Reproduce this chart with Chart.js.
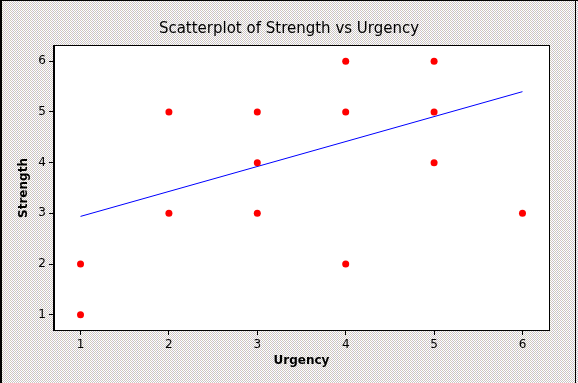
<!DOCTYPE html>
<html>
<head>
<meta charset="utf-8">
<script src="https://cdn.jsdelivr.net/npm/chart.js@4"></script>
<style>
html,body{margin:0;padding:0;background:#fff;}
#wrap{width:578px;height:383px;position:relative;}
</style>
</head>
<body>
<div id="wrap"><canvas id="c" width="578" height="383"></canvas></div>
<script>
// Data
const urgency  = [1, 1, 2, 2, 3, 3, 3, 4, 4, 4, 5, 5, 5, 6];
const strength = [1, 2, 3, 5, 3, 4, 5, 2, 5, 6, 4, 5, 6, 3];
const fitX = [1, 6];
const fitY = [2.94, 5.40];
const xTicks = [1, 2, 3, 4, 5, 6];
const yTicks = [1, 2, 3, 4, 5, 6];

const points = urgency.map((u, i) => ({x: u, y: strength[i]}));
const fitLine = fitX.map((u, i) => ({x: u, y: fitY[i]}));

function makePattern(ctx) {
  const p = document.createElement('canvas');
  p.width = 4; p.height = 4;
  const pc = p.getContext('2d');
  pc.fillStyle = '#ffffff';
  pc.fillRect(0, 0, 4, 4);
  const cols = ['#d2c2c6', '#cccbbc', '#c2c2cc', '#cfc6c2'];
  let k = 0;
  for (let y = 0; y < 4; y++) {
    for (let x = 0; x < 4; x++) {
      if ((x + y) % 2 === 0) {
        pc.fillStyle = cols[(k++) % cols.length];
        pc.fillRect(x, y, 1, 1);
      }
    }
  }
  return ctx.createPattern(p, 'repeat');
}

const bgPlugin = {
  id: 'bg',
  beforeDraw(chart) {
    const {ctx, chartArea: a, width, height} = chart;
    ctx.save();
    ctx.fillStyle = makePattern(ctx);
    ctx.fillRect(0, 0, width, height);
    ctx.fillStyle = '#000';
    ctx.fillRect(0, 0, 2, height);
    ctx.fillRect(0, 0, width, 1);
    ctx.fillRect(575, 0, 1, height);
    ctx.fillStyle = '#fff';
    ctx.fillRect(a.left, a.top, a.right - a.left, a.bottom - a.top);
    ctx.restore();
  },
  afterDraw(chart) {
    const {ctx, chartArea: a} = chart;
    ctx.save();
    ctx.strokeStyle = '#000';
    ctx.lineWidth = 1;
    ctx.strokeRect(Math.round(a.left) - 0.5, Math.round(a.top) - 0.5,
                   Math.round(a.right - a.left) + 1, Math.round(a.bottom - a.top) + 1);
    ctx.restore();
  }
};

new Chart(document.getElementById('c'), {
  type: 'scatter',
  data: {
    datasets: [
      {
        data: fitLine,
        showLine: true,
        borderColor: '#0000ff',
        borderWidth: 1,
        pointRadius: 0,
        fill: false,
        order: 2
      },
      {
        data: points,
        backgroundColor: '#ff0000',
        borderWidth: 0,
        pointRadius: 3.5,
        order: 1
      }
    ]
  },
  options: {
    responsive: false,
    animation: false,
    layout: {padding: 0},
    plugins: {
      legend: {display: false},
      tooltip: {enabled: false},
      title: {
        display: true,
        text: 'Scatterplot of Strength vs Urgency',
        color: '#000',
        font: {family: 'DejaVu Sans', size: 15, weight: 'normal', lineHeight: 1.2},
        padding: {top: 20, bottom: 8}
      }
    },
    scales: {
      x: {
        type: 'linear',
        min: 0.7, max: 6.3,
        afterBuildTicks(s) { s.ticks = xTicks.map(v => ({value: v})); },
        afterFit(s) { s.height = 53; },
        ticks: {color: '#000', font: {family: 'DejaVu Sans', size: 12}, padding: 3,
                callback: v => String(v)},
        grid: {display: true, drawOnChartArea: false, drawTicks: true, tickLength: 5, color: '#000', lineWidth: 1},
        border: {display: true, color: '#000', width: 1},
        title: {display: true, text: 'Urgency', color: '#000',
                font: {family: 'DejaVu Sans', size: 12, weight: 'bold'}, padding: {top: 4, bottom: 15}}
      },
      y: {
        type: 'linear',
        min: 0.7, max: 6.3,
        afterBuildTicks(s) { s.ticks = yTicks.map(v => ({value: v})); },
        afterFit(s) { s.width = 54; },
        ticks: {color: '#000', font: {family: 'DejaVu Sans', size: 12}, padding: 3,
                callback: v => String(v)},
        grid: {display: true, drawOnChartArea: false, drawTicks: true, tickLength: 5, color: '#000', lineWidth: 1},
        border: {display: true, color: '#000', width: 1},
        title: {display: true, text: 'Strength', color: '#000',
                font: {family: 'DejaVu Sans', size: 12, weight: 'bold'}, padding: {top: 17, bottom: 4}}
      },
      y2: {
        type: 'linear',
        position: 'right',
        display: true,
        afterFit(s) { s.width = 29; },
        ticks: {display: false},
        grid: {display: false},
        border: {display: false}
      }
    }
  },
  plugins: [bgPlugin]
});
</script>
</body>
</html>
